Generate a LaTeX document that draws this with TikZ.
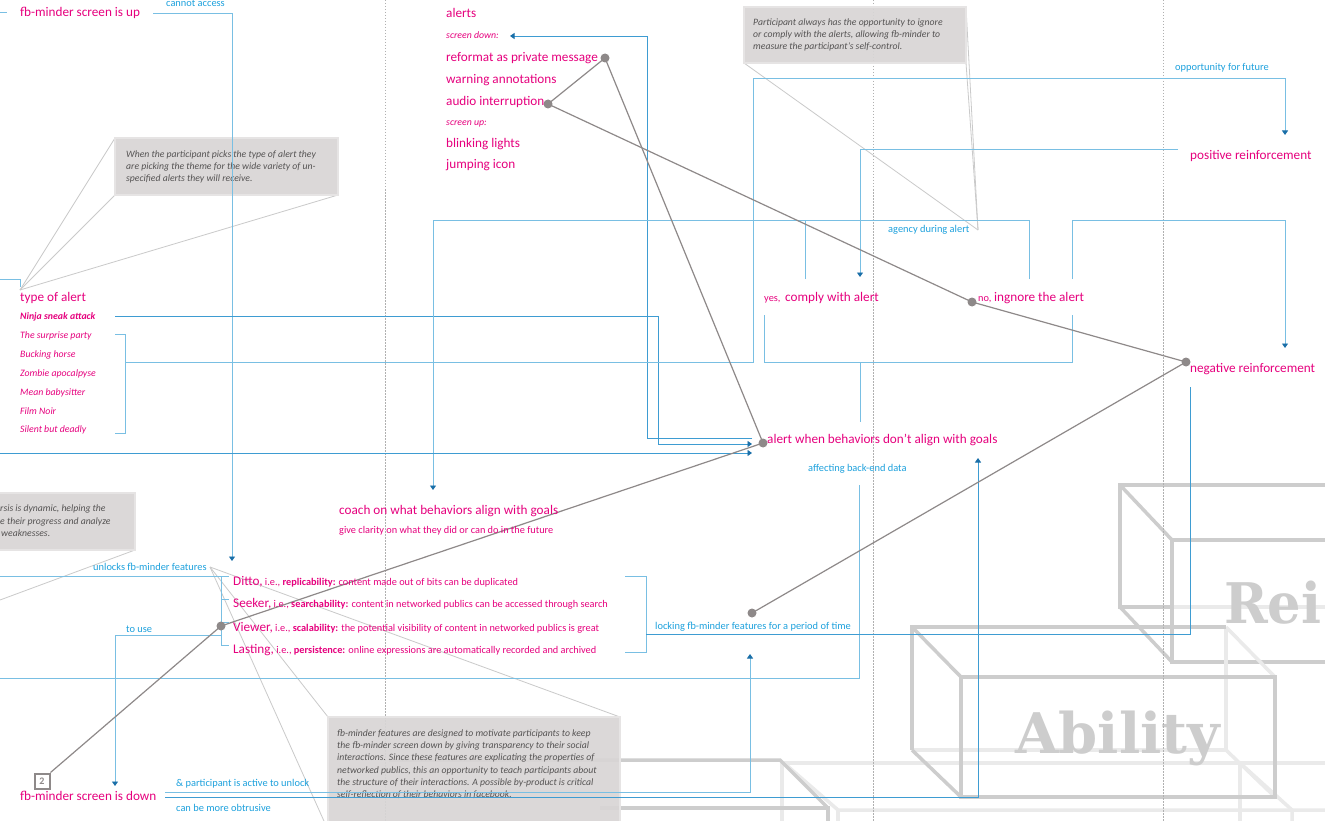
\documentclass[tikz,border=0pt]{standalone}
\usepackage{fontspec}
\setmainfont{Carlito}
\newfontfamily\slabfont{DejaVu Serif}
\usetikzlibrary{arrows.meta}
\definecolor{mag}{HTML}{E6007E}
\definecolor{lblue}{HTML}{1DA1DD}
\definecolor{lineblue}{HTML}{79BFE3}
\definecolor{lineblueD}{HTML}{3E9CD2}
\definecolor{arrowblue}{HTML}{1A6FA8}
\definecolor{notefill}{HTML}{D8D5D5}
\definecolor{noteedge}{HTML}{E6E4E4}
\definecolor{notetext}{HTML}{555353}
\definecolor{callout}{HTML}{CACACA}
\definecolor{dotgray}{HTML}{8E8989}
\definecolor{boxgray}{HTML}{CDCDCD}
\definecolor{boxlight}{HTML}{EAEAEA}
\definecolor{dotline}{HTML}{B0B0B0}
\begin{document}
\begin{tikzpicture}[x=1pt,y=-1pt,
  mg/.style={text=mag,font=\fontsize{13.2}{15}\selectfont,inner sep=0pt,anchor=base west},
  mgs/.style={text=mag,font=\fontsize{10.3}{12}\selectfont,inner sep=0pt,anchor=base west},
  mgi/.style={text=mag,font=\fontsize{9.8}{11}\selectfont\itshape,inner sep=0pt,anchor=base west},
  lbl/.style={text=lblue,font=\fontsize{10.4}{12}\selectfont,inner sep=0pt,anchor=base west},
  nt/.style={text=notetext,font=\fontsize{9.7}{11}\selectfont\itshape,inner sep=0pt,anchor=base west},
  notebox/.style={fill=notefill,fill opacity=0.92,draw=noteedge,line width=1.5pt},
  co/.style={draw=callout,line width=0.8pt},
  bln/.style={draw=lineblue,line width=0.9pt},
  bld/.style={draw=lineblueD,line width=0.9pt},
  bluetip/.style={-{Triangle[width=6pt,length=4.5pt,color=arrowblue]}},
  gline/.style={draw=dotgray,line width=1.2pt},
  vdot/.style={draw=dotline,line width=0.8pt,dash pattern=on 1.5pt off 1.5pt},
  deco/.style={draw=boxgray,line width=3.5pt},
  decol/.style={draw=boxlight,line width=3.5pt},
  bigtxt/.style={text=boxgray,font=\slabfont\bfseries\fontsize{56}{60}\selectfont,inner sep=0pt,anchor=base west}
]
\path[use as bounding box] (0,0) rectangle (1325,821);
\fill[white] (0,0) rectangle (1325,821);
\clip (0,0) rectangle (1325,821);

% ---------- decorative 3D boxes ----------
% light background boxes
\draw[decol] (784,763) -- (1330,763);
\draw[decol] (784,763) -- (838,810) -- (1330,810);
\draw[decol] (838,810) -- (838,830);
\draw[decol] (782,763) -- (782,830);
\draw[decol] (1240,763) -- (1292,810) -- (1292,830);
\draw[decol] (1240,763) -- (1240,830);
% Rei box
\draw[decol] (1120,607) -- (1330,607);
\draw[deco] (1330,485) -- (1120,485) -- (1120,607) -- (1172,607);
\draw[deco] (1120,485) -- (1172,540);
\draw[deco] (1120,607) -- (1172,662);
\draw[deco] (1330,540) -- (1172,540) -- (1172,662) -- (1330,662);
\node[bigtxt] (rei) at (1224,623) {\scalebox{0.94}[1]{Rei}};
% Ability box
\draw[decol] (912,750) -- (1226,750) -- (1226,627);
\draw[decol] (1226,627) -- (1275,677);
\draw[decol] (1226,750) -- (1275,797);
\draw[deco] (1226,627) -- (912,627) -- (912,750);
\draw[deco] (912,627) -- (961,677);
\draw[deco] (912,750) -- (961,797);
\draw[deco] (961,677) rectangle (1275,797);
\node[bigtxt] (ability) at (1015,753) {Ability};
% bottom partial box
\draw[deco] (389,760) -- (780,760) -- (828,808);
\draw[deco] (600,808) -- (828,808) -- (828,830);

% ---------- dotted verticals ----------
\draw[vdot] (385,0) -- (385,821);
\draw[vdot] (873,0) -- (873,821);
\draw[vdot] (1163,0) -- (1163,821);

% ---------- notes with callouts ----------
\coordinate (ap1) at (20,290);
\draw[co] (ap1) -- (115,138); \draw[co] (ap1) -- (115,195); \draw[co] (ap1) -- (338,195);
\path[notebox] (115,138) rectangle (338,195);
\node[nt] (n1a) at (126,158) {When the participant picks the type of alert they};
\node[nt] (n1b) at (126,170) {are picking the theme for the wide variety of un-};
\node[nt] (n1c) at (126,182) {specified alerts they will receive.};

\coordinate (ap2) at (978,230);
\draw[co] (ap2) -- (744,63); \draw[co] (ap2) -- (966,63); \draw[co] (ap2) -- (966,7);
\path[notebox] (744,7) rectangle (966,63);
\node[nt] (n2a) at (753,26) {Participant always has the opportunity to ignore};
\node[nt] (n2b) at (753,38) {or comply with the alerts, allowing fb-minder to};
\node[nt] (n2c) at (753,50) {measure the participant’s self-control.};

\coordinate (ap3) at (210,567);
\draw[co] (ap3) -- (328,717); \draw[co] (ap3) -- (620,717); \draw[co] (ap3) -- (328,830);
\path[notebox] (328,717) rectangle (620,830);
\node[nt] (n3a) at (337,736) {fb-minder features are designed to motivate participants to keep};
\node[nt] (n3b) at (337,748) {the fb-minder screen down by giving transparency to their social};
\node[nt] (n3c) at (337,760) {interactions. Since these features are explicating the properties of};
\node[nt] (n3d) at (337,773) {networked publics, this an opportunity to teach participants about};
\node[nt] (n3e) at (337,785) {the structure of their interactions. A possible by-product is critical};
\node[nt] (n3f) at (337,797) {self-reflection of their behaviors in facebook.};

\coordinate (ap4) at (0,600);
\draw[co] (ap4) -- (135,550);
\path[notebox] (-10,493) rectangle (135,550);
\node[nt] (n4a) at (0,511) {rsis is dynamic, helping the};
\node[nt] (n4b) at (0,524) {e their progress and analyze};
\node[nt] (n4c) at (1,536) {weaknesses.};

% ---------- blue connectors ----------
\coordinate (upL) at (0,12.5); \coordinate (upLe) at (7,12.5);
\draw[bln] (upL) -- (upLe);
\coordinate (upR) at (153,13); \coordinate (featTop) at (232,561);
\draw[bln,bluetip] (upR) -| (featTop);

\coordinate (typeL) at (0,279); \coordinate (typeTop) at (20,287);
\draw[bln] (typeL) -| (typeTop);

\coordinate (ninjaR) at (115,316); \coordinate (ninjaTurn) at (658,316); \coordinate (alertIn1) at (752,444);
\draw[bld,bluetip] (ninjaR) -- (ninjaTurn) |- (alertIn1);

\coordinate (alertOut) at (752,438); \coordinate (sdTurn) at (647,36); \coordinate (sdArrow) at (510,36);
\draw[bld,bluetip] (alertOut) -| (sdTurn) -- (sdArrow);

\coordinate (brTop) at (115,334); \coordinate (brBot) at (115,433);
\draw[bln] (brTop) -- (125,334) -- (125,433) -- (brBot);
\coordinate (brMid) at (125,362); \coordinate (oppTurn) at (753,78); \coordinate (posArrow) at (1285,135);
\draw[bln,bluetip] (brMid) -| (oppTurn) -| (posArrow);

\coordinate (posOut) at (1178,149); \coordinate (complyArrow) at (860,277);
\draw[bln,bluetip] (posOut) -| (complyArrow);

\coordinate (agR) at (1029,279); \coordinate (agL) at (433,220); \coordinate (coachArrow) at (433,490);
\coordinate (agM) at (805,279); \coordinate (agMt) at (805,220);
\draw[bln,bluetip] (agR) |- (agL) -- (coachArrow);
\draw[bln] (agM) -- (agMt);

\coordinate (negL) at (1072,279); \coordinate (negTurn) at (1072,220); \coordinate (negArrow) at (1285,348);
\draw[bln,bluetip] (negL) -- (negTurn) -| (negArrow);

\coordinate (lbL) at (764,315); \coordinate (lbR) at (1072,315); \coordinate (lbRb) at (1072,362);
\draw[bln] (lbL) |- (lbRb) -- (lbR);
\coordinate (lbM) at (860,362); \coordinate (lbMe) at (860,422);
\draw[bln] (lbM) -- (lbMe);

\coordinate (leftIn) at (0,453); \coordinate (alertIn2) at (752,453);
\draw[bld,bluetip] (leftIn) -- (alertIn2);

\coordinate (backTop) at (859,485); \coordinate (backEnd) at (0,678);
\draw[bln] (backTop) |- (backEnd);

\coordinate (downR1) at (165,792); \coordinate (lockArrow) at (750,654);
\draw[bln,bluetip] (downR1) -| (lockArrow);
\coordinate (downR2) at (165,797); \coordinate (alertArrowUp) at (978,458);
\draw[bld,bluetip] (downR2) -| (alertArrowUp);

\coordinate (rbTop) at (625,576); \coordinate (rbBot) at (625,652); \coordinate (rbBotR) at (646,652);
\draw[bln] (rbTop) -| (rbBotR) -- (rbBot);
\coordinate (rbMid) at (646,634); \coordinate (negBelow) at (1190,387);
\draw[bld] (rbMid) -| (negBelow);

\coordinate (unlL) at (0,576); \coordinate (lbTop) at (221,576); \coordinate (lbBot) at (221,645);
\draw[bln] (unlL) -- (lbTop) -- (lbBot);
\foreach \yy in {576,599,622,645} \draw[bln] (221,\yy) -- (229,\yy);
\coordinate (useR) at (221,635); \coordinate (useArrow) at (115,786);
\draw[bln,bluetip] (useR) -| (useArrow);

% ---------- gray connectors ----------
\coordinate (dReformat) at (605,58);
\coordinate (dAudio) at (548,104);
\coordinate (dNo) at (972,302);
\coordinate (dNeg) at (1186,362);
\coordinate (dAlert) at (763,443);
\coordinate (dLock) at (752,613);
\coordinate (dViewer) at (221,626);
\node[draw=dotgray,line width=2pt,fill=white,minimum width=15pt,minimum height=15pt,inner sep=0pt,
      font=\bfseries\fontsize{10}{11}\selectfont,text=dotgray] (box2) at (42,781) {2};
\draw[gline] (dAudio) -- (dReformat) -- (dAlert) -- (dViewer) -- (box2.north east);
\draw[gline] (dAudio) -- (dNo) -- (dNeg) -- (dLock);
\foreach \d in {dReformat,dAudio,dNo,dNeg,dAlert,dLock,dViewer} \fill[dotgray] (\d) circle (4.5pt);

% ---------- texts ----------
\node[mg] (upT) at (20,16.5) {fb-minder screen is up};
\node[lbl] (cannotT) at (166,7) {cannot access};
\node[mg] (alertsT) at (446,17.5) {alerts};
\node[mgi] (sdT) at (446,39) {screen down:};
\node[mg] (reformatT) at (446,62) {reformat as private message};
\node[mg] (warnT) at (446,83.5) {warning annotations};
\node[mg] (audioT) at (446,106) {audio interruption};
\node[mgi] (suT) at (446,125.5) {screen up:};
\node[mg] (blinkT) at (446,147.5) {blinking lights};
\node[mg] (jumpT) at (446,169) {jumping icon};

\node[lbl] (oppT) at (1175,71) {opportunity for future};
\node[mg] (posT) at (1190,159.5) {positive reinforcement};
\node[lbl] (agencyT) at (888,233) {agency during alert};

\node[mg] (typeT) at (20,301) {type of alert};
\node[mgi,font=\fontsize{9.8}{11}\selectfont\bfseries\itshape] (ninjaT) at (20,319.5) {Ninja sneak attack};
\node[mgi] (t1) at (20,338.5) {The surprise party};
\node[mgi] (t2) at (20,357.5) {Bucking horse};
\node[mgi] (t3) at (20,376.5) {Zombie apocalpyse};
\node[mgi] (t4) at (20,395.5) {Mean babysitter};
\node[mgi] (t5) at (20,414) {Film Noir};
\node[mgi] (t6) at (20,432.5) {Silent but deadly};

\node[mgs] (yesS) at (764,301) {yes,};
\node[mg] (yesT) at (785,301) {comply with alert};
\node[mgs] (noS) at (978,301) {no,};
\node[mg] (noT) at (994,301) {ingnore the alert};
\node[mg] (negT) at (1190,372) {negative reinforcement};
\node[mg] (alertT) at (767,443.5) {alert when behaviors don’t align with goals};
\node[lbl] (affT) at (808,471) {affecting back-end data};
\node[mg] (coachT) at (339,514) {coach on what behaviors align with goals};
\node[mgs] (clarT) at (339,533.5) {give clarity on what they did or can do in the future};

\node[lbl] (unlT) at (93,570) {unlocks fb-minder features};
\node[mg] (dittoT) at (233,585.5) {Ditto,{\fontsize{10.3}{12}\selectfont\ i.e., \textbf{replicability:} content made out of bits can be duplicated}};
\node[mg] (seekT) at (233,607) {Seeker,{\fontsize{10.3}{12}\selectfont\ i.e., \textbf{searchability:} content in networked publics can be accessed through search}};
\node[mg] (viewT) at (233,631) {Viewer,{\fontsize{10.3}{12}\selectfont\ i.e., \textbf{scalability:} the potential visibility of content in networked publics is great}};
\node[mg] (lastT) at (233,653) {Lasting,{\fontsize{10.3}{12}\selectfont\ i.e., \textbf{persistence:} online expressions are automatically recorded and archived}};
\node[lbl] (useT) at (126,632) {to use};
\node[lbl] (lockT) at (655,629) {locking fb-minder features for a period of time};
\node[mg] (downT) at (20,800) {fb-minder screen is down};
\node[lbl] (actT) at (176,786) {\& participant is active to unlock};
\node[lbl] (obtT) at (176,811) {can be more obtrusive};
\end{tikzpicture}
\end{document}
